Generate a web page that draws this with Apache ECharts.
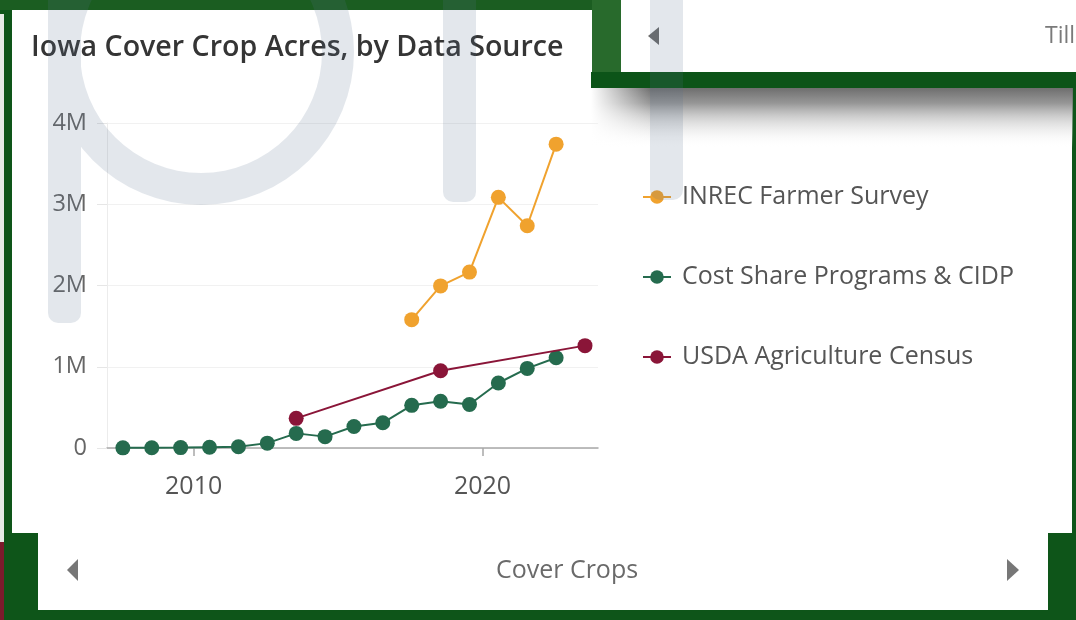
<!DOCTYPE html>
<html>
<head>
<meta charset="utf-8">
<script src="https://cdn.jsdelivr.net/npm/echarts@6/dist/echarts.min.js"></script>
<style>
html,body{margin:0;padding:0;background:#0e5519;overflow:hidden;}
#c{width:1076px;height:620px;}
</style>
</head>
<body>
<div id="c"></div>
<script>
// ---- data ----
const titleText = 'Iowa Cover Crop Acres, by Data Source';
const seriesNames = ['INREC Farmer Survey', 'Cost Share Programs & CIDP', 'USDA Agriculture Census'];

const inrecYears = [2017.55, 2018.55, 2019.55, 2020.55, 2021.55, 2022.55];
const inrecAcres = [1580000, 1995000, 2165000, 3085000, 2735000, 3740000];

const costShareYears = [2007.55, 2008.55, 2009.55, 2010.55, 2011.55, 2012.55, 2013.55, 2014.55,
                        2015.55, 2016.55, 2017.55, 2018.55, 2019.55, 2020.55, 2021.55, 2022.55];
const costShareAcres = [2000, 3000, 5000, 10000, 15000, 60000, 180000, 140000,
                        265000, 310000, 525000, 575000, 535000, 800000, 980000, 1110000];

const censusYears = [2013.55, 2018.55, 2023.55];
const censusAcres = [365000, 950000, 1260000];

const xTickYears = [2010, 2020];
const yTickLabels = ['0', '1M', '2M', '3M', '4M'];

const navLabel = 'Cover Crops';
const nextTabLabel = 'Till';

// ---- styling ----
const FONT = 'Open Sans';
const colors = ['#F0A22E', '#256B4E', '#8A1538'];

function pairs(xs, ys) { return xs.map((x, i) => [x, ys[i]]); }

function lineSeries(name, data, color, z) {
  return {
    name: name, type: 'line', data: data, z: z,
    symbol: 'circle', symbolSize: 15,
    itemStyle: { color: color },
    lineStyle: { color: color, width: 2 },
    emphasis: { disabled: true },
    animation: false
  };
}

// watermark as one path so overlapping parts do not double up
function barPath(x0, x1, yb, r) {
  return 'M' + x0 + ' -5 L' + x1 + ' -5 L' + x1 + ' ' + (yb - r) +
    ' A' + r + ' ' + r + ' 0 0 1 ' + (x1 - r) + ' ' + yb +
    ' L' + (x0 + r) + ' ' + yb +
    ' A' + r + ' ' + r + ' 0 0 1 ' + x0 + ' ' + (yb - r) + ' Z ';
}
const ringCx = 201, ringCy = 52, ringR = 153, ringR0 = 121;
const watermarkPath =
  'M' + (ringCx + ringR) + ' ' + ringCy +
  ' A' + ringR + ' ' + ringR + ' 0 1 1 ' + (ringCx - ringR) + ' ' + ringCy +
  ' A' + ringR + ' ' + ringR + ' 0 1 1 ' + (ringCx + ringR) + ' ' + ringCy + ' Z ' +
  'M' + (ringCx + ringR0) + ' ' + ringCy +
  ' A' + ringR0 + ' ' + ringR0 + ' 0 1 0 ' + (ringCx - ringR0) + ' ' + ringCy +
  ' A' + ringR0 + ' ' + ringR0 + ' 0 1 0 ' + (ringCx + ringR0) + ' ' + ringCy + ' Z ' +
  barPath(48, 81, 323, 10) + barPath(443, 476, 202, 10) + barPath(650, 683, 200, 10);

const chart = echarts.init(document.getElementById('c'), null, { renderer: 'canvas' });

const option = {
  backgroundColor: '#0e5519',
  animation: false,
  title: {
    text: titleText,
    left: 26, top: 28,
    textStyle: { fontFamily: FONT, fontSize: 28.6, fontWeight: 600, color: '#353535' }
  },
  legend: {
    orient: 'vertical',
    left: 637, top: 177,
    itemWidth: 28, itemHeight: 17,
    itemGap: 50,
    selectedMode: false,
    data: seriesNames,
    textStyle: { fontFamily: FONT, fontSize: 25, color: '#555', lineHeight: 30, padding: [0, 0, 0, 6] }
  },
  grid: { left: 107, right: 478, top: 123, bottom: 172, containLabel: false },
  xAxis: {
    type: 'value', min: 2007, max: 2024,
    axisLine: { show: true, lineStyle: { color: '#a8a8a8', width: 1.5 } },
    axisTick: { show: true, customValues: xTickYears, length: 8, lineStyle: { color: '#a8a8a8', width: 1.5 } },
    axisLabel: { customValues: xTickYears, formatter: v => String(v), margin: 26,
                 fontFamily: FONT, fontSize: 25, color: '#555' },
    splitLine: { show: false }
  },
  yAxis: {
    type: 'value', min: 0, max: 4000000, interval: 1000000,
    axisLine: { show: true, lineStyle: { color: '#ececec' } },
    axisTick: { show: true, length: 10, lineStyle: { color: '#e6e6e6' } },
    axisLabel: { margin: 20, fontFamily: FONT, fontSize: 23.5, color: '#666', padding: [0, 0, 7, 0],
                 formatter: v => yTickLabels[Math.round(v / 1000000)] },
    splitLine: { lineStyle: { color: '#f1f1f1' } }
  },
  series: [
    lineSeries(seriesNames[0], pairs(inrecYears, inrecAcres), colors[0], 3),
    lineSeries(seriesNames[1], pairs(costShareYears, costShareAcres), colors[1], 2),
    lineSeries(seriesNames[2], pairs(censusYears, censusAcres), colors[2], 4)
  ],
  graphic: { elements: [
    // panels
    { type: 'rect', z: -20, shape: { x: 12, y: 10, width: 1060, height: 523 }, style: { fill: '#ffffff' } },
    { type: 'rect', z: -20, shape: { x: 38, y: 533, width: 1010, height: 77 }, style: { fill: '#ffffff' } },
    { type: 'rect', z: -20, shape: { x: 0, y: 0, width: 592, height: 10 }, style: { fill: '#1b5d21' } },
    { type: 'rect', z: -20, shape: { x: 0, y: 14, width: 4, height: 528 }, style: { fill: '#e6ebe6' } },
    { type: 'rect', z: -20, shape: { x: 0, y: 542, width: 4, height: 78 }, style: { fill: '#7b1b2c' } },
    { type: 'rect', z: -20, shape: { x: 592, y: 0, width: 29, height: 88 }, style: { fill: '#286a2c' } },
    { type: 'rect', z: -20, shape: { x: 591, y: 72, width: 485, height: 16 }, style: { fill: '#0c5418' } },
    { type: 'rect', z: -20, shape: { x: 621, y: 0, width: 455, height: 72 }, style: { fill: '#ffffff' } },
    // shadow under the top-right tab
    { type: 'rect', z: -15, shape: { x: 591, y: 88, width: 482, height: 60 },
      style: { fill: new echarts.graphic.LinearGradient(0, 0, 0, 1, [
        { offset: 0, color: 'rgba(105,105,105,0.97)' },
        { offset: 0.25, color: 'rgba(135,135,135,0.88)' },
        { offset: 0.5, color: 'rgba(180,180,180,0.6)' },
        { offset: 0.75, color: 'rgba(222,222,222,0.35)' },
        { offset: 1, color: 'rgba(255,255,255,0)' }]) } },
    { type: 'rect', z: -14, shape: { x: 591, y: 88, width: 60, height: 60 },
      style: { fill: new echarts.graphic.LinearGradient(0, 0, 1, 0, [
        { offset: 0, color: 'rgba(255,255,255,1)' },
        { offset: 1, color: 'rgba(255,255,255,0)' }]) } },
    // nav arrows and labels
    { type: 'polygon', z: -10, shape: { points: [[659, 27], [648, 36], [659, 45]] }, style: { fill: '#6b6b6b' } },
    { type: 'polygon', z: -10, shape: { points: [[78, 559], [67, 570], [78, 581]] }, style: { fill: '#777777' } },
    { type: 'polygon', z: -10, shape: { points: [[1007, 559], [1019, 570], [1007, 581]] }, style: { fill: '#777777' } },
    { type: 'text', z: -10, x: 567, y: 571,
      style: { text: navLabel, fontFamily: FONT, fontSize: 25, fill: '#6a6a6a', align: 'center', verticalAlign: 'middle' } },
    { type: 'text', z: -10, x: 1045, y: 36,
      style: { text: nextTabLabel, fontFamily: FONT, fontSize: 23, fill: '#7a7a7a', align: 'left', verticalAlign: 'middle' } }
  ] }
};

chart.setOption(option);

// watermark overlay, drawn on top through the library's own path builder
const wm = echarts.graphic.makePath(watermarkPath, {
  silent: true, z: 100, zlevel: 0,
  style: { fill: 'rgba(90,110,140,0.17)' }
});
chart.getZr().add(wm);
</script>
</body>
</html>
